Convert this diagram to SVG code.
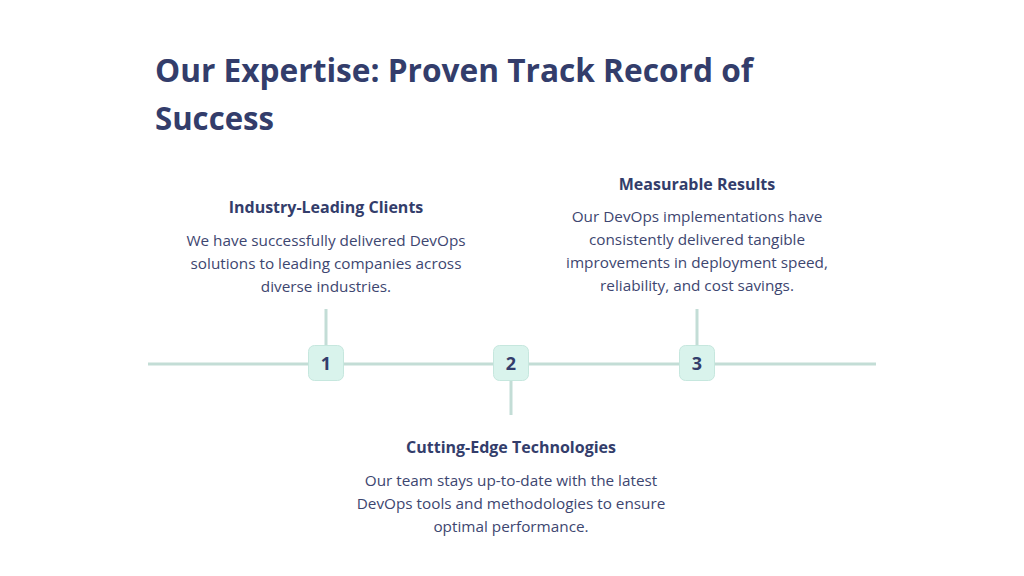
<svg xmlns="http://www.w3.org/2000/svg" width="1024" height="576" viewBox="0 0 1024 576">
<style>
.t{font-family:"Open Sans","Noto Sans",sans-serif;fill:#333d6b}
.title{font-size:33px;font-weight:700}
.h{font-size:16px;font-weight:700;text-anchor:middle}
.b{font-size:15.3px;text-anchor:middle;fill:#3d4670}
.ln{stroke:#c3ddd6;stroke-width:3;fill:none}
.box{fill:#d9f3ec;stroke:#c6e7de;stroke-width:1}
.n{font-size:18px;font-weight:700;text-anchor:middle}
</style>
<rect width="1024" height="576" fill="#ffffff"/>
<g id="title">
<text class="t title" x="155" y="82" textLength="598" lengthAdjust="spacingAndGlyphs">Our Expertise: Proven Track Record of</text>
<text class="t title" x="155" y="130" textLength="119" lengthAdjust="spacingAndGlyphs">Success</text>
</g>
<g id="connectors">
<line class="ln" x1="148" y1="364" x2="876" y2="364"/>
<line class="ln" x1="326" y1="309" x2="326" y2="346"/>
<line class="ln" x1="511" y1="380" x2="511" y2="415"/>
<line class="ln" x1="697" y1="309" x2="697" y2="346"/>
</g>
<g id="node1">
<rect class="box" x="308.5" y="345.5" width="35" height="35" rx="6"/>
<text class="t n" x="326" y="370">1</text>
<text class="t h" x="326" y="213">Industry-Leading Clients</text>
<text class="t b" x="326" y="246">We have successfully delivered DevOps</text>
<text class="t b" x="326" y="269">solutions to leading companies across</text>
<text class="t b" x="326" y="292">diverse industries.</text>
</g>
<g id="node2">
<rect class="box" x="493.5" y="345.5" width="35" height="35" rx="6"/>
<text class="t n" x="511" y="370">2</text>
<text class="t h" x="511" y="453">Cutting-Edge Technologies</text>
<text class="t b" x="511" y="486">Our team stays up-to-date with the latest</text>
<text class="t b" x="511" y="509">DevOps tools and methodologies to ensure</text>
<text class="t b" x="511" y="532">optimal performance.</text>
</g>
<g id="node3">
<rect class="box" x="679.5" y="345.5" width="35" height="35" rx="6"/>
<text class="t n" x="697" y="370">3</text>
<text class="t h" x="697" y="190">Measurable Results</text>
<text class="t b" x="697" y="222">Our DevOps implementations have</text>
<text class="t b" x="697" y="245">consistently delivered tangible</text>
<text class="t b" x="697" y="268">improvements in deployment speed,</text>
<text class="t b" x="697" y="291">reliability, and cost savings.</text>
</g>
</svg>
